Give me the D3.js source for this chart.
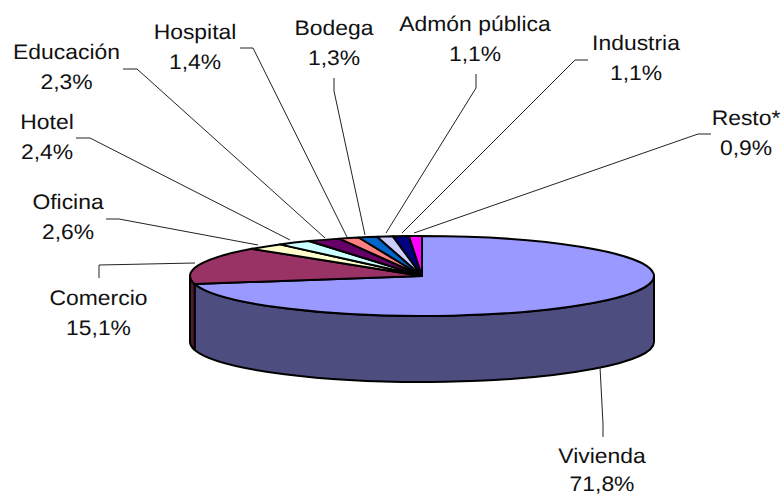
<!DOCTYPE html>
<html><head><meta charset="utf-8">
<script src="https://cdnjs.cloudflare.com/ajax/libs/d3/7.8.5/d3.min.js"></script>
<style>html,body{margin:0;padding:0;background:#fff}svg{display:block}
text{font-family:"Liberation Sans",Arial,sans-serif;font-size:21px;fill:#111;text-rendering:geometricPrecision}</style>
</head><body><svg id="c" width="784" height="495"></svg>
<script>
const categories=["Vivienda","Comercio","Oficina","Hotel","Educación","Hospital","Bodega","Admón pública","Industria","Resto*"];
const values=[71.8,15.1,2.6,2.4,2.3,1.4,1.3,1.1,1.1,0.9];
const valueLabels=["71,8%","15,1%","2,6%","2,4%","2,3%","1,4%","1,3%","1,1%","1,1%","0,9%"];
const topColors=["#9999FF","#993366","#FFFFCC","#CCFFFF","#660066","#FF8080","#0066CC","#CCCCFF","#000080","#FF00FF"];
const sideColors=["#4D4D80","#4D1A33"];
const labelCenterX=[602,98.5,68,47,66.5,195,334,475,636,746];
const labelBaseY=[463,305,209,129,59,39,35,31,50,125];
const leaders=[
 [[603,437],[603,424],[600,367]],
 [[99,278],[99,265],[195,263]],
 [[106,219],[119,219],[258,245]],
 [[76,138],[90,138],[290,240]],
 [[123,69],[137,69],[325,238]],
 [[240,48],[253,48],[347,237]],
 [[334,78],[334,91],[365,235]],
 [[476,74],[476,88],[386,233]],
 [[588,60],[575,60],[402,233]],
 [[711,134],[698,134],[414,233]]
];
const cx=422,cy=276,rx=232,ry=40,depth=66,sx=1.09;
const svg=d3.select("#c");
const pie=d3.pie().sort(null).value(d=>d);
const arcs=pie(values);
const g=svg.append("g").attr("transform",`translate(${cx},${cy}) scale(1,${ry/rx})`);
const arc=d3.arc().innerRadius(0).outerRadius(rx);
const dz=depth*rx/ry;
function wall(a0,a1){
  const p=d3.path(),s=a0-Math.PI/2,e=a1-Math.PI/2;
  p.arc(0,0,rx,s,e);
  p.arc(0,dz,rx,e,s,true);
  p.closePath();
  return p.toString();
}
const walls=[[Math.PI/2,arcs[0].endAngle],[arcs[1].startAngle,Math.PI*1.5]];
g.selectAll("path.w").data(walls).join("path").attr("class","w")
 .attr("d",d=>wall(d[0],d[1])).attr("fill",(d,i)=>sideColors[i])
 .attr("stroke","#000").attr("stroke-width",2).attr("stroke-linejoin","round")
 .attr("vector-effect","non-scaling-stroke");
g.selectAll("path.t").data(arcs).join("path").attr("class","t")
 .attr("d",arc).attr("fill",(d,i)=>topColors[i])
 .attr("stroke","#000").attr("stroke-width",2).attr("stroke-linejoin","round")
 .attr("vector-effect","non-scaling-stroke");
const line=d3.line();
svg.selectAll("path.l").data(leaders).join("path").attr("class","l")
 .attr("d",line).attr("fill","none").attr("stroke","#222").attr("stroke-width",1);
const lab=svg.selectAll("g.lab").data(categories).join("g").attr("class","lab")
 .attr("transform",(d,i)=>`translate(${labelCenterX[i]},${labelBaseY[i]}) scale(${sx},1)`);
lab.append("text").attr("text-anchor","middle").text(d=>d);
lab.append("text").attr("text-anchor","middle").attr("y",(d,i)=>i===0?28:30).text((d,i)=>valueLabels[i]);
</script></body></html>
